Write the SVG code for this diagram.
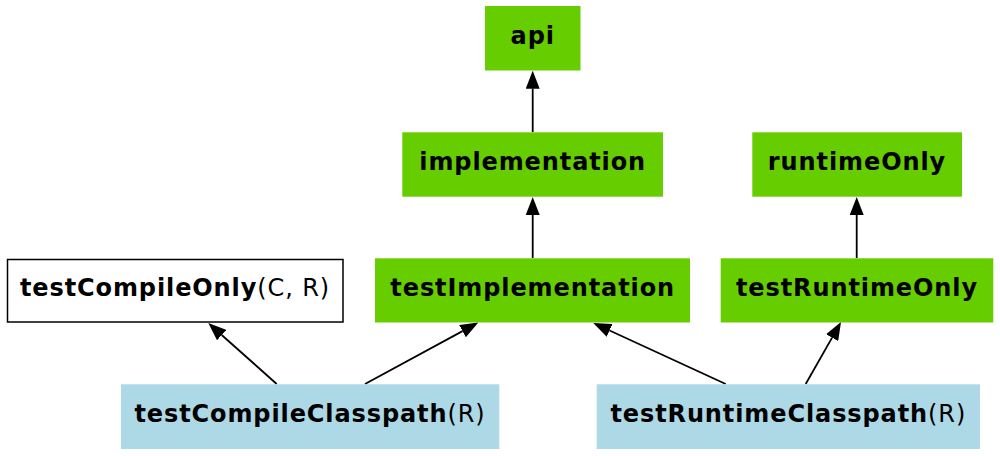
<svg xmlns="http://www.w3.org/2000/svg" width="1000" height="456" viewBox="0 0 1000 456">
<style>
.g{fill:#66cd00;}
.b{fill:#add8e6;}
.w{fill:#ffffff;stroke:#000000;stroke-width:1.5;}
text{font-family:"DejaVu Sans",sans-serif;font-size:24px;font-weight:bold;fill:#000;text-anchor:middle;letter-spacing:0.9px;}
.n{font-weight:normal;}
.e{stroke:#000;stroke-width:1.8;fill:none;marker-end:url(#ah);}
</style>
<defs>
<marker id="ah" viewBox="0 0 18 14" refX="0" refY="7" markerWidth="18" markerHeight="14" orient="auto" markerUnits="userSpaceOnUse">
<path d="M0,0 L18,7 L0,14 z" fill="#000"/>
</marker>
</defs>
<g id="connectors">
<line class="e" x1="276.7" y1="384" x2="221.7" y2="335"/>
<line class="e" x1="365" y1="384" x2="462.5" y2="331.1"/>
<line class="e" x1="725.7" y1="384" x2="609.6" y2="330.5"/>
<line class="e" x1="805.7" y1="384" x2="832.1" y2="337.6"/>
<line class="e" x1="532.7" y1="258" x2="532.7" y2="215"/>
<line class="e" x1="532.7" y1="132" x2="532.7" y2="88.7"/>
<line class="e" x1="856.7" y1="258" x2="856.7" y2="215"/>
</g>
<g id="api"><rect class="g" x="485" y="6" width="95.5" height="64.5"/><text x="532.7" y="44">api</text></g>
<g id="implementation"><rect class="g" x="402.3" y="132.3" width="260.7" height="64.4"/><text x="532.7" y="170">implementation</text></g>
<g id="runtimeOnly"><rect class="g" x="752.3" y="132.3" width="209.7" height="64.4"/><text x="857" y="170">runtimeOnly</text></g>
<g id="testCompileOnly"><rect class="w" x="7.5" y="259.5" width="335.5" height="62.5"/><text x="175" y="296">testCompileOnly<tspan class="n">(C, R)</tspan></text></g>
<g id="testImplementation"><rect class="g" x="375" y="258.3" width="315" height="64.2"/><text x="532.7" y="296">testImplementation</text></g>
<g id="testRuntimeOnly"><rect class="g" x="720.7" y="258.3" width="272.6" height="64.2"/><text x="857" y="296">testRuntimeOnly</text></g>
<g id="testCompileClasspath"><rect class="b" x="121" y="384.3" width="378.3" height="64.7"/><text x="310" y="422">testCompileClasspath<tspan class="n">(R)</tspan></text></g>
<g id="testRuntimeClasspath"><rect class="b" x="596.7" y="384.3" width="383.3" height="64.7"/><text x="788.3" y="422">testRuntimeClasspath<tspan class="n">(R)</tspan></text></g>
</svg>
